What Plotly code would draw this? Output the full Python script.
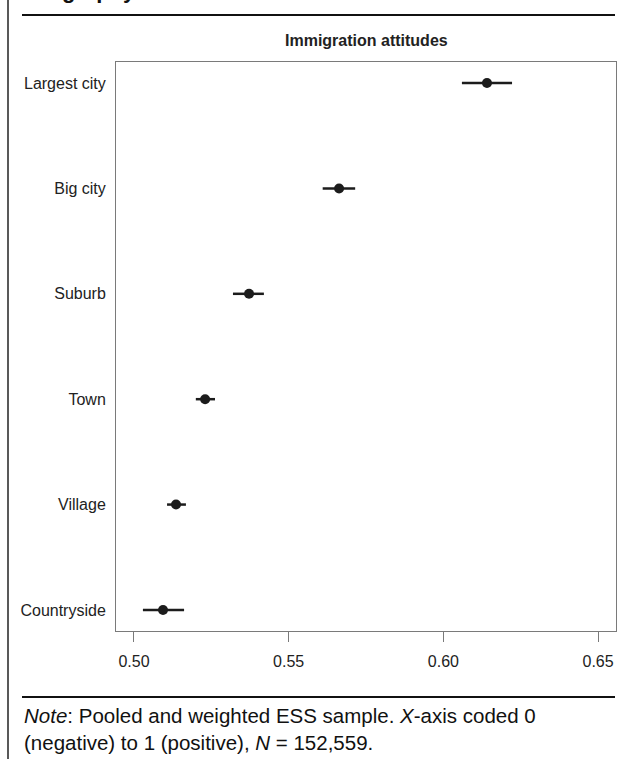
import plotly.graph_objects as go

# ---- data ----
categories = ["Countryside", "Village", "Town", "Suburb", "Big city", "Largest city"]
estimates = [0.5094, 0.5136, 0.5230, 0.5372, 0.5663, 0.6141]
ci_lower = [0.5029, 0.5107, 0.5200, 0.5320, 0.5610, 0.6060]
ci_upper = [0.5162, 0.5168, 0.5262, 0.5420, 0.5715, 0.6222]
x_ticks = [0.50, 0.55, 0.60, 0.65]
x_tick_labels = ["0.50", "0.55", "0.60", "0.65"]

W, H = 625, 759
L, R, T, B = 116, 616, 62, 631  # plot box in pixels

def px(x):
    return (x - L) / (R - L)

def py(y):
    return (B - y) / (B - T)

ypos = list(range(len(categories)))
err_plus = [u - e for u, e in zip(ci_upper, estimates)]
err_minus = [e - l for e, l in zip(estimates, ci_lower)]

FONT = "Liberation Sans, Arial, Helvetica, sans-serif"
INK = "#1c1c1c"

fig = go.Figure()
fig.add_trace(go.Scatter(
    x=estimates, y=ypos, mode="markers",
    marker=dict(size=10, color=INK),
    error_x=dict(type="data", symmetric=False, array=err_plus, arrayminus=err_minus,
                 thickness=2.5, width=0, color=INK),
    showlegend=False, hoverinfo="x+y",
))

fig.update_layout(
    width=W, height=H,
    margin=dict(l=L, r=W - R, t=T, b=H - B),
    paper_bgcolor="white", plot_bgcolor="white",
    font=dict(family=FONT, size=16, color="#222"),
    xaxis=dict(range=[0.4942, 0.6558], tickvals=x_ticks, ticktext=x_tick_labels,
               showgrid=False, zeroline=False, showline=True, mirror=True,
               linecolor="#7a7a7a", linewidth=1, ticks="outside", ticklen=10,
               tickcolor="#7a7a7a", tickwidth=1, ticklabelstandoff=6,
               automargin=False, tickfont=dict(size=16, color="#222")),
    yaxis=dict(range=[-0.2, 5.2], tickvals=ypos, ticktext=categories,
               showgrid=False, zeroline=False, showline=True, mirror=True,
               linecolor="#7a7a7a", linewidth=1, ticks="", ticklabelstandoff=6,
               automargin=False, tickfont=dict(size=16, color="#222")),
)

ann = []
# panel title
ann.append(dict(text="<b>Immigration attitudes</b>", xref="paper", yref="paper",
                x=0.5, y=py(40), xanchor="center", yanchor="middle", showarrow=False,
                font=dict(size=16, color="#222", family=FONT)))
# clipped heading at very top (only its lower edge shows)
ann.append(dict(text="<b>graphy</b>", xref="paper", yref="paper",
                x=px(60), y=py(-9), xanchor="left", yanchor="middle", showarrow=False,
                font=dict(size=22, color="#111", family=FONT)))
# note (two lines)
ann.append(dict(text="<i>Note</i>: Pooled and weighted ESS sample. <i>X</i>-axis coded 0"
                     "<br>(negative) to 1 (positive), <i>N</i> = 152,559.",
                xref="paper", yref="paper", x=px(22), y=py(729), xanchor="left",
                yanchor="middle", align="left", showarrow=False,
                font=dict(size=20.5, color="#111", family=FONT)))
fig.update_layout(annotations=ann)

shapes = [
    # left vertical page rule
    dict(type="line", xref="paper", yref="paper", x0=px(8), x1=px(8), y0=py(-5), y1=py(765),
         line=dict(color="#222", width=1.5)),
    # top rule
    dict(type="line", xref="paper", yref="paper", x0=px(22), x1=px(615), y0=py(15), y1=py(15),
         line=dict(color="#111", width=2)),
    # bottom rule
    dict(type="line", xref="paper", yref="paper", x0=px(22), x1=px(615), y0=py(697), y1=py(697),
         line=dict(color="#111", width=2)),
]
fig.update_layout(shapes=shapes)

fig.write_html("out.html", config={"displayModeBar": False},
               post_script="document.body.style.margin='0px';document.body.style.padding='0px';")
